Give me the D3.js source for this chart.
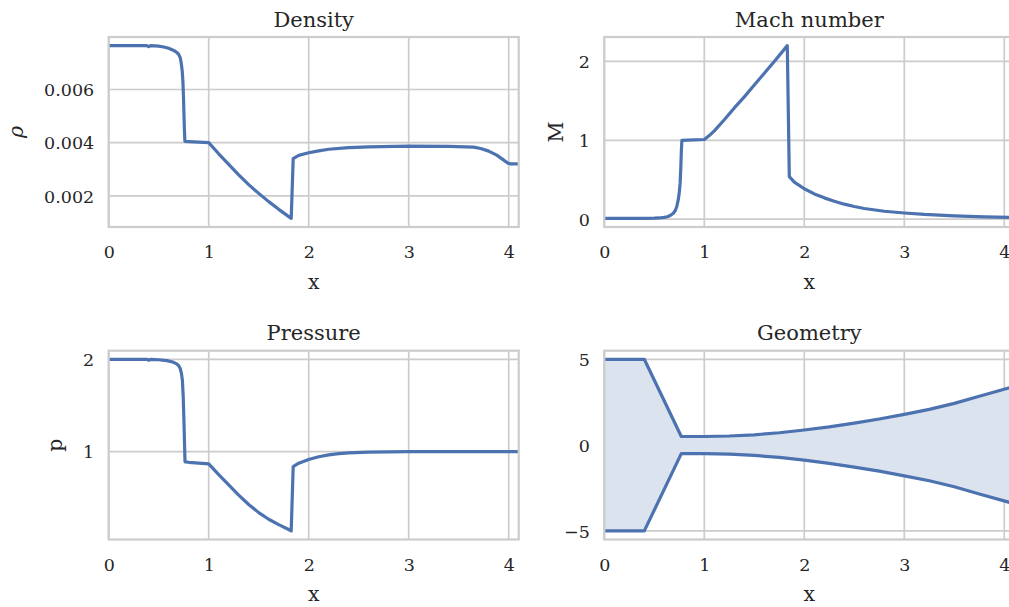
<!DOCTYPE html>
<html>
<head>
<meta charset="utf-8">
<script src="https://cdn.jsdelivr.net/npm/d3@7/dist/d3.min.js"></script>
<style>
  html, body { margin: 0; padding: 0; background: #fff; }
  svg { display: block; }
</style>
</head>
<body>
<svg id="chart" width="1009" height="607"></svg>
<script>
// ---------------- data ----------------
const densX = [0, 0.38, 0.40, 0.42, 0.5, 0.55, 0.6, 0.65, 0.68, 0.7, 0.715, 0.725, 0.735, 0.742, 0.748, 0.753, 0.757, 0.762, 0.8, 0.9, 1.0, 1.1, 1.2, 1.3, 1.4, 1.5, 1.6, 1.7, 1.825, 1.845, 1.9, 2.0, 2.1, 2.2, 2.4, 2.6, 3.0, 3.4, 3.65, 3.72, 3.8, 3.88, 3.94, 3.99, 4.02, 4.1];
const densY = [0.00765, 0.00765, 0.00761, 0.00765, 0.00763, 0.0076, 0.00755, 0.00747, 0.0074, 0.00732, 0.0072, 0.0070, 0.0067, 0.0063, 0.0057, 0.0050, 0.0045, 0.00405, 0.00404, 0.00402, 0.00400, 0.00358, 0.00318, 0.00279, 0.00242, 0.00209, 0.00178, 0.00149, 0.00115, 0.00340, 0.00352, 0.00362, 0.00369, 0.00375, 0.00381, 0.00384, 0.00387, 0.00386, 0.00383, 0.00378, 0.00368, 0.00353, 0.00337, 0.00323, 0.00320, 0.00320];

const machX = [0, 0.4, 0.5, 0.55, 0.6, 0.63, 0.66, 0.69, 0.71, 0.725, 0.74, 0.75, 0.758, 0.765, 0.77, 0.776, 0.9, 1.0, 1.05, 1.1, 1.2, 1.3, 1.4, 1.5, 1.6, 1.7, 1.83, 1.85, 1.9, 2.0, 2.1, 2.2, 2.3, 2.4, 2.5, 2.6, 2.8, 3.0, 3.2, 3.5, 3.8, 4.1];
const machY = [0.01, 0.01, 0.012, 0.015, 0.022, 0.03, 0.047, 0.075, 0.11, 0.16, 0.25, 0.34, 0.45, 0.65, 0.85, 1.0, 1.005, 1.01, 1.06, 1.12, 1.26, 1.41, 1.55, 1.70, 1.85, 2.0, 2.2, 0.54, 0.47, 0.385, 0.32, 0.27, 0.228, 0.19, 0.16, 0.135, 0.10, 0.078, 0.06, 0.042, 0.03, 0.022];

const presX = [0, 0.38, 0.40, 0.42, 0.5, 0.58, 0.64, 0.68, 0.7, 0.715, 0.727, 0.737, 0.745, 0.752, 0.758, 0.763, 0.8, 1.0, 1.1, 1.2, 1.3, 1.4, 1.5, 1.6, 1.7, 1.8, 1.825, 1.845, 1.9, 2.0, 2.1, 2.2, 2.3, 2.4, 2.6, 2.8, 3.0, 4.1];
const presY = [2.0, 2.0, 1.99, 2.0, 1.995, 1.985, 1.97, 1.95, 1.93, 1.9, 1.85, 1.77, 1.6, 1.35, 1.1, 0.89, 0.885, 0.867, 0.752, 0.64, 0.53, 0.428, 0.34, 0.268, 0.21, 0.157, 0.142, 0.838, 0.875, 0.915, 0.945, 0.965, 0.978, 0.987, 0.995, 0.998, 1.0, 1.0];

const geoX = [0, 0.4, 0.77, 1.0, 1.25, 1.5, 1.75, 2.0, 2.25, 2.5, 2.75, 3.0, 3.25, 3.5, 3.75, 4.06, 4.1];
const geoR = [5, 5, 0.5, 0.5, 0.53, 0.6, 0.72, 0.88, 1.06, 1.28, 1.52, 1.79, 2.08, 2.43, 2.85, 3.35, 3.42];

const titles = ["Density", "Mach number", "Pressure", "Geometry"];
const yLabels = ["\u03C1", "M", "p", ""];
const xLabel = "x";
const xTicks = [0, 1, 2, 3, 4];
const densTicks = [0.002, 0.004, 0.006];
const machTicks = [0, 1, 2];
const presTicks = [1, 2];
const geoTicks = [-5, 0, 5];
const xDomain = [0, 4.1];

// ---------------- style ----------------
const BLUE = "#4c72b0";
const FILL = "#dbe3ef";
const GRID = "#cccccc";
const TEXT = "#262626";
const FONT = "'DejaVu Serif', serif";

const svg = d3.select("#chart");

function padExtent(vals) {
  const [a, b] = d3.extent(vals);
  const p = (b - a) * 0.05;
  return [a - p, b + p];
}

const panels = [
  { left: 108.7, top: 37, w: 410, h: 190, title: titles[0], ylab: yLabels[0], ylabX: 23,
    yDomain: padExtent(densY), yTicks: densTicks, fmt: d3.format(".3f"),
    series: [{ xs: densX, ys: densY }] },
  { left: 604.3, top: 37, w: 410, h: 190, title: titles[1], ylab: yLabels[1], ylabX: 563,
    yDomain: padExtent(machY), yTicks: machTicks, fmt: d3.format("d"),
    series: [{ xs: machX, ys: machY }] },
  { left: 108.7, top: 350.7, w: 410, h: 188.8, title: titles[2], ylab: yLabels[2], ylabX: 61.5,
    yDomain: padExtent(presY), yTicks: presTicks, fmt: d3.format("d"),
    series: [{ xs: presX, ys: presY }] },
  { left: 604.3, top: 350.7, w: 410, h: 188.8, title: titles[3], ylab: yLabels[3], ylabX: 0,
    yDomain: padExtent(geoR.concat(geoR.map(r => -r))), yTicks: geoTicks,
    fmt: d => (d < 0 ? "\u2212" + Math.abs(d) : String(d)),
    fillBand: { xs: geoX, r: geoR },
    series: [{ xs: geoX, ys: geoR }, { xs: geoX, ys: geoR.map(r => -r) }] }
];

panels.forEach((p, i) => {
  const x = d3.scaleLinear().domain(xDomain).range([0, p.w]);
  const y = d3.scaleLinear().domain(p.yDomain).range([p.h, 0]);
  const g = svg.append("g").attr("transform", `translate(${p.left},${p.top})`);

  const clipId = "clip" + i;
  g.append("clipPath").attr("id", clipId)
    .append("rect").attr("x", 0).attr("y", 0).attr("width", p.w).attr("height", p.h);

  // grid
  const grid = g.append("g");
  grid.selectAll("line.vx").data(xTicks).enter().append("line")
    .attr("x1", d => x(d)).attr("x2", d => x(d)).attr("y1", 0).attr("y2", p.h)
    .attr("stroke", GRID).attr("stroke-width", 1.7);
  grid.selectAll("line.hy").data(p.yTicks).enter().append("line")
    .attr("x1", 0).attr("x2", p.w).attr("y1", d => y(d)).attr("y2", d => y(d))
    .attr("stroke", GRID).attr("stroke-width", 1.7);

  const plot = g.append("g").attr("clip-path", `url(#${clipId})`);

  if (p.fillBand) {
    const idx = d3.range(p.fillBand.xs.length);
    const area = d3.area()
      .x(k => x(p.fillBand.xs[k]))
      .y0(k => y(-p.fillBand.r[k]))
      .y1(k => y(p.fillBand.r[k]));
    plot.append("path").datum(idx).attr("d", area).attr("fill", FILL);
  }

  p.series.forEach(s => {
    const idx = d3.range(s.xs.length);
    const line = d3.line().x(k => x(s.xs[k])).y(k => y(s.ys[k]));
    plot.append("path").datum(idx).attr("d", line)
      .attr("fill", "none").attr("stroke", BLUE).attr("stroke-width", 3.2)
      .attr("stroke-linejoin", "round").attr("stroke-linecap", "butt");
  });

  // frame
  g.append("rect").attr("x", 0).attr("y", 0).attr("width", p.w).attr("height", p.h)
    .attr("fill", "none").attr("stroke", GRID).attr("stroke-width", 2.2);

  // axes
  const xa = g.append("g").attr("transform", `translate(0,${p.h})`)
    .call(d3.axisBottom(x).tickValues(xTicks).tickSize(0).tickPadding(18.6).tickFormat(d3.format("d")));
  const ya = g.append("g")
    .call(d3.axisLeft(y).tickValues(p.yTicks).tickSize(0).tickPadding(14.5).tickFormat(p.fmt));
  [xa, ya].forEach(a => {
    a.select(".domain").remove();
    a.selectAll("text").attr("fill", TEXT).style("font-family", FONT).style("font-size", "17.5px");
  });
  ya.selectAll("text").attr("dy", "0.36em");

  // title
  g.append("text").attr("x", p.w / 2).attr("y", -10.5).attr("text-anchor", "middle")
    .attr("fill", TEXT).style("font-family", FONT).style("font-size", "21px").text(p.title);

  // x label
  g.append("text").attr("x", p.w / 2).attr("y", p.h + 61.5).attr("text-anchor", "middle")
    .attr("fill", TEXT).style("font-family", FONT).style("font-size", "20.5px").text(xLabel);

  // y label
  if (p.ylab) {
    svg.append("text")
      .attr("transform", `translate(${p.ylabX},${p.top + p.h / 2}) rotate(-90)`)
      .attr("text-anchor", "middle")
      .attr("fill", TEXT).style("font-family", FONT).style("font-size", "20.5px")
      .style("font-style", p.ylab === "\u03C1" ? "italic" : "normal")
      .text(p.ylab);
  }
});
</script>
</body>
</html>
